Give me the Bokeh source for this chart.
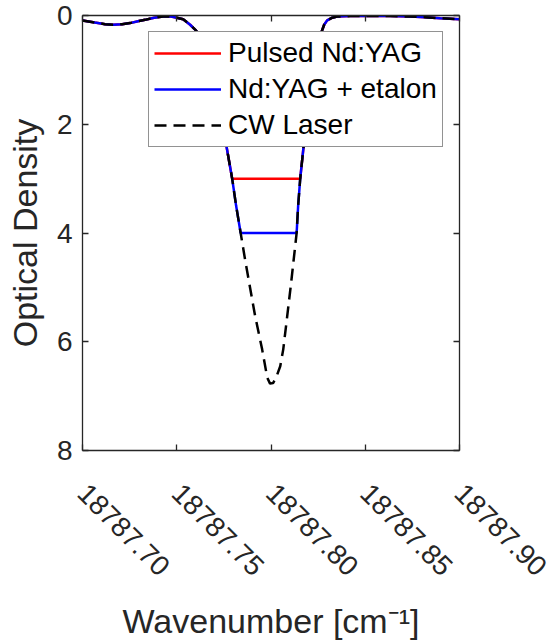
import math
from bokeh.plotting import figure
from bokeh.models import Range1d, FixedTicker, LinearAxis, Legend, LegendItem
from bokeh.embed import file_html
from bokeh.resources import INLINE

# ---- data ----
wavenumber = [
    18787.7000, 18787.7066, 18787.7120, 18787.7162, 18787.7210, 18787.7252,
    18787.7300, 18787.7332, 18787.7380, 18787.7427, 18787.7470, 18787.7500,
    18787.7534, 18787.7571, 18787.7603, 18787.7624, 18787.7650, 18787.7677,
    18787.7704, 18787.7730, 18787.7751, 18787.7767, 18787.7794, 18787.7815,
    18787.7839, 18787.7863, 18787.7884, 18787.7916, 18787.7953, 18787.7980,
    18787.7995, 18787.8011, 18787.8027, 18787.8049, 18787.8065, 18787.8086,
    18787.8107, 18787.8128, 18787.8136, 18787.8144, 18787.8155, 18787.8171,
    18787.8187, 18787.8208, 18787.8230, 18787.8245, 18787.8261, 18787.8282,
    18787.8298, 18787.8325, 18787.8351, 18787.8420, 18787.8526, 18787.8632,
    18787.8739, 18787.8818, 18787.8898, 18787.9000,
]
od_cw_laser = [
    0.09, 0.13, 0.16, 0.17, 0.16, 0.14,
    0.10, 0.08, 0.04, 0.02, 0.02, 0.04,
    0.07, 0.17, 0.28, 0.37, 0.60, 0.95,
    1.35, 1.80, 2.15, 2.47, 3.00, 3.50,
    4.00, 4.50, 4.91, 5.53, 6.14, 6.66,
    6.77, 6.76, 6.66, 6.45, 6.14, 5.53,
    4.91, 4.25, 4.00, 3.50, 3.00, 2.47,
    2.00, 1.45, 0.90, 0.60, 0.37, 0.17,
    0.09, 0.04, 0.02, 0.01, 0.01, 0.01,
    0.02, 0.03, 0.05, 0.07,
]
od_pulsed_ndyag = [
    0.09, 0.13, 0.16, 0.17, 0.16, 0.14,
    0.10, 0.08, 0.04, 0.02, 0.02, 0.04,
    0.07, 0.17, 0.28, 0.37, 0.60, 0.95,
    1.35, 1.80, 2.15, 2.47, 3.00, 3.00,
    3.00, 3.00, 3.00, 3.00, 3.00, 3.00,
    3.00, 3.00, 3.00, 3.00, 3.00, 3.00,
    3.00, 3.00, 3.00, 3.00, 3.00, 2.47,
    2.00, 1.45, 0.90, 0.60, 0.37, 0.17,
    0.09, 0.04, 0.02, 0.01, 0.01, 0.01,
    0.02, 0.03, 0.05, 0.07,
]
od_ndyag_etalon = [
    0.09, 0.13, 0.16, 0.17, 0.16, 0.14,
    0.10, 0.08, 0.04, 0.02, 0.02, 0.04,
    0.07, 0.17, 0.28, 0.37, 0.60, 0.95,
    1.35, 1.80, 2.15, 2.47, 3.00, 3.50,
    4.00, 4.00, 4.00, 4.00, 4.00, 4.00,
    4.00, 4.00, 4.00, 4.00, 4.00, 4.00,
    4.00, 4.00, 4.00, 3.50, 3.00, 2.47,
    2.00, 1.45, 0.90, 0.60, 0.37, 0.17,
    0.09, 0.04, 0.02, 0.01, 0.01, 0.01,
    0.02, 0.03, 0.05, 0.07,
]
series_names = ["Pulsed Nd:YAG", "Nd:YAG + etalon", "CW Laser"]
x_ticks = [18787.70, 18787.75, 18787.80, 18787.85, 18787.90]
x_tick_labels = ["18787.70", "18787.75", "18787.80", "18787.85", "18787.90"]
y_ticks = [0, 2, 4, 6, 8]
x_label = "Wavenumber [cm\u207b\u00b9]"
y_label = "Optical Density"

FONT = "Liberation Sans"
AX = "#262626"

p = figure(width=552, height=642, output_backend="svg", toolbar_location=None,
           x_range=Range1d(x_ticks[0], x_ticks[-1]), y_range=Range1d(y_ticks[-1], y_ticks[0]),
           min_border_left=82, min_border_right=93, min_border_top=15, min_border_bottom=191)
p.xgrid.visible = False
p.ygrid.visible = False
p.outline_line_color = None
p.background_fill_color = "white"

r1 = p.line(wavenumber, od_pulsed_ndyag, line_color="#ff0000", line_width=2.5)
r2 = p.line(wavenumber, od_ndyag_etalon, line_color="#0000ff", line_width=2.5)
r3 = p.line(wavenumber, od_cw_laser, line_color="black", line_width=2.5, line_dash="12 7")

xa = p.xaxis[0]
ya = p.yaxis[0]
xa.ticker = FixedTicker(ticks=x_ticks)
xa.major_label_overrides = {t: l for t, l in zip(x_ticks, x_tick_labels)}
ya.ticker = FixedTicker(ticks=y_ticks)
xa.axis_label = x_label
ya.axis_label = y_label
xa.major_label_orientation = -math.pi / 4

for ax in (xa, ya):
    ax.axis_line_color = AX
    ax.axis_line_width = 1.3
    ax.major_tick_line_color = AX
    ax.major_tick_line_width = 1.3
    ax.major_tick_in = 6
    ax.major_tick_out = 0
    ax.minor_tick_in = 0
    ax.minor_tick_out = 0
    ax.major_label_text_font = FONT
    ax.major_label_text_font_size = "28px"
    ax.major_label_text_color = AX
    ax.axis_label_text_font = FONT
    ax.axis_label_text_font_size = "34px"
    ax.axis_label_text_font_style = "normal"
    ax.axis_label_text_color = AX

xa.major_label_standoff = 38
xa.axis_label_standoff = 14
ya.major_label_standoff = 10
ya.axis_label_standoff = 10

for side, tick in (("above", x_ticks), ("right", y_ticks)):
    ax2 = LinearAxis(ticker=FixedTicker(ticks=tick), major_label_overrides={t: "" for t in tick},
                     major_label_standoff=0, axis_line_color=AX, axis_line_width=1.3,
                     major_tick_line_color=AX, major_tick_line_width=1.3,
                     major_tick_in=6, major_tick_out=0, minor_tick_in=0, minor_tick_out=0)
    p.add_layout(ax2, side)

legend = Legend(items=[LegendItem(label=series_names[0], renderers=[r1]),
                       LegendItem(label=series_names[1], renderers=[r2]),
                       LegendItem(label=series_names[2], renderers=[r3])],
                location=(66, 303), margin=0, padding=5, spacing=4,
                glyph_width=67, glyph_height=32, label_height=32, label_standoff=7,
                label_text_font=FONT, label_text_font_size="28px", label_text_color="black",
                border_line_color=AX, border_line_width=1, background_fill_color="white",
                background_fill_alpha=1.0)
p.add_layout(legend)

open("out.html", "w").write(file_html(p, INLINE))
